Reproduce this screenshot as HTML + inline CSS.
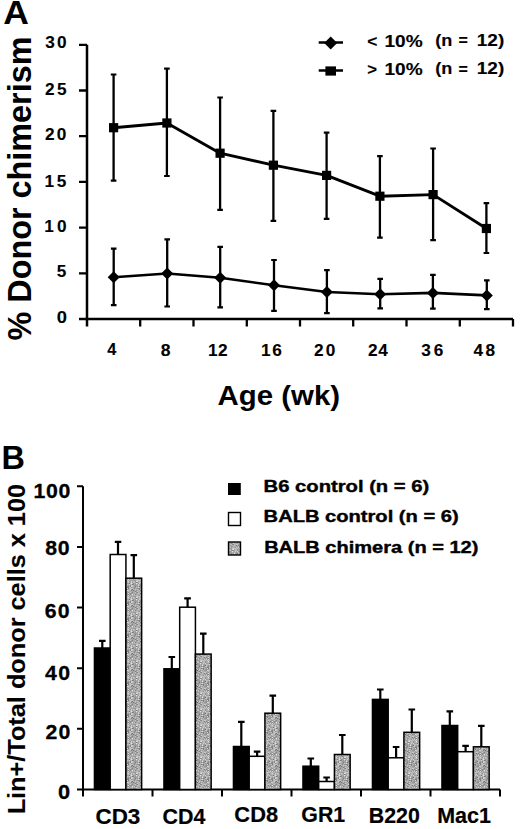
<!DOCTYPE html>
<html><head><meta charset="utf-8"><style>
html,body{margin:0;padding:0;background:#fff;}
svg{display:block;}
</style></head><body>
<svg width="520" height="829" viewBox="0 0 520 829">
<defs><pattern id="gp" patternUnits="userSpaceOnUse" width="16" height="16"><rect width="16" height="16" fill="#a8a8a8"/><path d="M1 7h1v1h-1zM13 9h1v1h-1zM5 14h1v1h-1z" fill="rgb(108,108,108)"/><path d="M12 1h1v1h-1zM8 6h1v1h-1zM4 8h1v1h-1zM7 10h1v1h-1zM11 10h1v1h-1zM0 12h1v1h-1zM4 13h1v1h-1zM11 13h1v1h-1z" fill="rgb(120,120,120)"/><path d="M4 0h1v1h-1zM9 0h1v1h-1zM14 1h1v1h-1zM0 2h1v1h-1zM7 2h1v1h-1zM2 9h1v1h-1zM0 10h1v1h-1zM2 10h1v1h-1zM9 10h1v1h-1zM0 11h1v1h-1zM15 11h1v1h-1zM10 12h1v1h-1zM11 12h1v1h-1zM3 14h1v1h-1zM7 15h1v1h-1z" fill="rgb(132,132,132)"/><path d="M0 0h1v1h-1zM8 0h1v1h-1zM2 1h1v1h-1zM3 1h1v1h-1zM2 2h1v1h-1zM13 2h1v1h-1zM15 2h1v1h-1zM11 3h1v1h-1zM6 4h1v1h-1zM7 5h1v1h-1zM13 5h1v1h-1zM4 6h1v1h-1zM9 6h1v1h-1zM13 6h1v1h-1zM5 7h1v1h-1zM5 8h1v1h-1zM7 9h1v1h-1zM12 9h1v1h-1zM12 10h1v1h-1zM15 10h1v1h-1zM3 11h1v1h-1zM6 11h1v1h-1zM13 11h1v1h-1zM6 12h1v1h-1zM9 12h1v1h-1zM3 13h1v1h-1zM14 13h1v1h-1zM8 14h1v1h-1zM12 14h1v1h-1zM13 14h1v1h-1zM14 14h1v1h-1z" fill="rgb(144,144,144)"/><path d="M3 0h1v1h-1zM15 0h1v1h-1zM1 1h1v1h-1zM6 1h1v1h-1zM8 2h1v1h-1zM1 3h1v1h-1zM5 3h1v1h-1zM15 3h1v1h-1zM5 4h1v1h-1zM7 4h1v1h-1zM1 5h1v1h-1zM2 5h1v1h-1zM7 6h1v1h-1zM6 7h1v1h-1zM14 7h1v1h-1zM15 7h1v1h-1zM6 8h1v1h-1zM7 8h1v1h-1zM9 8h1v1h-1zM12 8h1v1h-1zM0 9h1v1h-1zM6 9h1v1h-1zM4 11h1v1h-1zM5 11h1v1h-1zM7 11h1v1h-1zM8 12h1v1h-1zM14 12h1v1h-1zM6 13h1v1h-1zM13 13h1v1h-1zM15 13h1v1h-1zM4 14h1v1h-1zM6 15h1v1h-1zM8 15h1v1h-1zM15 15h1v1h-1z" fill="rgb(156,156,156)"/><path d="M5 0h1v1h-1zM14 0h1v1h-1zM4 1h1v1h-1zM5 1h1v1h-1zM7 1h1v1h-1zM8 1h1v1h-1zM11 1h1v1h-1zM15 1h1v1h-1zM1 2h1v1h-1zM3 2h1v1h-1zM5 2h1v1h-1zM10 2h1v1h-1zM12 2h1v1h-1zM3 3h1v1h-1zM7 3h1v1h-1zM10 3h1v1h-1zM2 4h1v1h-1zM3 4h1v1h-1zM4 4h1v1h-1zM14 4h1v1h-1zM4 5h1v1h-1zM10 5h1v1h-1zM12 5h1v1h-1zM14 5h1v1h-1zM2 6h1v1h-1zM10 6h1v1h-1zM14 6h1v1h-1zM0 7h1v1h-1zM7 7h1v1h-1zM10 7h1v1h-1zM12 7h1v1h-1zM11 8h1v1h-1zM13 8h1v1h-1zM1 9h1v1h-1zM5 9h1v1h-1zM8 9h1v1h-1zM9 9h1v1h-1zM11 9h1v1h-1zM15 9h1v1h-1zM1 10h1v1h-1zM6 10h1v1h-1zM8 10h1v1h-1zM11 11h1v1h-1zM12 11h1v1h-1zM14 11h1v1h-1zM5 12h1v1h-1zM7 12h1v1h-1zM12 12h1v1h-1zM13 12h1v1h-1zM0 13h1v1h-1zM6 14h1v1h-1zM9 14h1v1h-1zM10 14h1v1h-1zM1 15h1v1h-1zM2 15h1v1h-1zM3 15h1v1h-1zM4 15h1v1h-1zM5 15h1v1h-1zM11 15h1v1h-1zM12 15h1v1h-1zM13 15h1v1h-1z" fill="rgb(168,168,168)"/><path d="M1 0h1v1h-1zM6 0h1v1h-1zM10 0h1v1h-1zM11 0h1v1h-1zM9 1h1v1h-1zM13 1h1v1h-1zM9 2h1v1h-1zM11 2h1v1h-1zM14 2h1v1h-1zM2 3h1v1h-1zM9 3h1v1h-1zM13 3h1v1h-1zM0 4h1v1h-1zM1 4h1v1h-1zM8 4h1v1h-1zM13 4h1v1h-1zM15 5h1v1h-1zM1 6h1v1h-1zM11 6h1v1h-1zM15 6h1v1h-1zM9 7h1v1h-1zM0 8h1v1h-1zM2 8h1v1h-1zM3 8h1v1h-1zM8 8h1v1h-1zM14 8h1v1h-1zM5 10h1v1h-1zM10 10h1v1h-1zM9 11h1v1h-1zM1 12h1v1h-1zM1 13h1v1h-1zM8 13h1v1h-1zM12 13h1v1h-1zM7 14h1v1h-1zM10 15h1v1h-1zM14 15h1v1h-1z" fill="rgb(180,180,180)"/><path d="M2 0h1v1h-1zM7 0h1v1h-1zM13 0h1v1h-1zM10 1h1v1h-1zM6 2h1v1h-1zM4 3h1v1h-1zM6 3h1v1h-1zM8 3h1v1h-1zM12 3h1v1h-1zM10 4h1v1h-1zM11 4h1v1h-1zM12 4h1v1h-1zM15 4h1v1h-1zM5 5h1v1h-1zM6 5h1v1h-1zM11 5h1v1h-1zM0 6h1v1h-1zM5 6h1v1h-1zM6 6h1v1h-1zM2 7h1v1h-1zM4 7h1v1h-1zM10 8h1v1h-1zM15 8h1v1h-1zM4 10h1v1h-1zM13 10h1v1h-1zM1 11h1v1h-1zM2 11h1v1h-1zM8 11h1v1h-1zM3 12h1v1h-1zM2 13h1v1h-1zM5 13h1v1h-1zM9 13h1v1h-1zM10 13h1v1h-1zM0 14h1v1h-1zM1 14h1v1h-1zM2 14h1v1h-1zM11 14h1v1h-1zM0 15h1v1h-1z" fill="rgb(192,192,192)"/><path d="M12 0h1v1h-1zM14 3h1v1h-1zM9 4h1v1h-1zM3 6h1v1h-1zM12 6h1v1h-1zM11 7h1v1h-1zM1 8h1v1h-1zM3 9h1v1h-1zM4 9h1v1h-1zM14 9h1v1h-1zM14 10h1v1h-1zM2 12h1v1h-1zM4 12h1v1h-1zM15 12h1v1h-1zM7 13h1v1h-1zM9 15h1v1h-1z" fill="rgb(204,204,204)"/><path d="M0 3h1v1h-1zM0 5h1v1h-1zM3 5h1v1h-1zM9 5h1v1h-1zM13 7h1v1h-1zM10 9h1v1h-1zM10 11h1v1h-1zM15 14h1v1h-1z" fill="rgb(216,216,216)"/><path d="M0 1h1v1h-1zM4 2h1v1h-1zM8 5h1v1h-1zM3 7h1v1h-1zM8 7h1v1h-1zM3 10h1v1h-1z" fill="rgb(228,228,228)"/></pattern></defs>
<rect width="520" height="829" fill="#fff"/>
<path d="M87.0,44.8 V326.6 M87.0,319.0 H513.0" stroke="#000" stroke-width="2.5" fill="none"/>
<path d="M79,319.0 H87.0 M79,273.3 H87.0 M79,227.6 H87.0 M79,181.9 H87.0 M79,136.2 H87.0 M79,90.5 H87.0 M79,44.8 H87.0" stroke="#000" stroke-width="2.3" fill="none"/>
<path d="M140.2,319.0 V326.6 M193.5,319.0 V326.6 M246.8,319.0 V326.6 M300.0,319.0 V326.6 M353.2,319.0 V326.6 M406.5,319.0 V326.6 M459.8,319.0 V326.6 M513.0,319.0 V326.6" stroke="#000" stroke-width="2.3" fill="none"/>
<path d="M113.6,74.5 V180.6 M166.9,68.6 V176 M220.1,97.5 V209.8 M273.4,110.8 V220.9 M326.6,132.6 V218.8 M379.9,156.2 V237.7 M433.1,148.5 V240.2 M486.4,203.2 V253" stroke="#000" stroke-width="2.3" fill="none"/>
<path d="M110.8,74.5 H116.4 M110.8,180.6 H116.4 M164.1,68.6 H169.7 M164.1,176 H169.7 M217.3,97.5 H222.9 M217.3,209.8 H222.9 M270.6,110.8 H276.2 M270.6,220.9 H276.2 M323.8,132.6 H329.4 M323.8,218.8 H329.4 M377.1,156.2 H382.7 M377.1,237.7 H382.7 M430.3,148.5 H435.9 M430.3,240.2 H435.9 M483.6,203.2 H489.2 M483.6,253 H489.2" stroke="#000" stroke-width="2.2" fill="none"/>
<polyline points="113.6,127.7 166.9,123 220.1,153.2 273.4,165.2 326.6,175.4 379.9,196.2 433.1,194.6 486.4,228.5" stroke="#000" stroke-width="2.9" fill="none" stroke-linejoin="round"/>
<path d="M113.7,248.6 V305.2 M167.2,239.4 V306.5 M220.2,246.8 V307.4 M274,260 V310.8 M326.9,270.2 V313.2 M380.2,278.8 V308.3 M432.9,274.8 V308.6 M486.8,280.3 V309.2" stroke="#000" stroke-width="2.3" fill="none"/>
<path d="M110.9,248.6 H116.5 M110.9,305.2 H116.5 M164.4,239.4 H170.0 M164.4,306.5 H170.0 M217.4,246.8 H223.0 M217.4,307.4 H223.0 M271.2,260 H276.8 M271.2,310.8 H276.8 M324.1,270.2 H329.7 M324.1,313.2 H329.7 M377.4,278.8 H383.0 M377.4,308.3 H383.0 M430.1,274.8 H435.7 M430.1,308.6 H435.7 M484.0,280.3 H489.6 M484.0,309.2 H489.6" stroke="#000" stroke-width="2.2" fill="none"/>
<polyline points="113.7,277.2 167.2,273.5 220.2,277.8 274,285.2 326.9,292 380.2,294.2 432.9,292.9 486.8,295.4" stroke="#000" stroke-width="2.6" fill="none" stroke-linejoin="round"/>
<rect x="109.0" y="123.1" width="9.2" height="9.2" fill="#000"/>
<rect x="162.3" y="118.4" width="9.2" height="9.2" fill="#000"/>
<rect x="215.5" y="148.6" width="9.2" height="9.2" fill="#000"/>
<rect x="268.8" y="160.6" width="9.2" height="9.2" fill="#000"/>
<rect x="322.0" y="170.8" width="9.2" height="9.2" fill="#000"/>
<rect x="375.3" y="191.6" width="9.2" height="9.2" fill="#000"/>
<rect x="428.5" y="190.0" width="9.2" height="9.2" fill="#000"/>
<rect x="481.8" y="223.9" width="9.2" height="9.2" fill="#000"/>
<path d="M113.7,271.2 L119.7,277.2 L113.7,283.2 L107.7,277.2 Z" fill="#000"/>
<path d="M167.2,267.5 L173.2,273.5 L167.2,279.5 L161.2,273.5 Z" fill="#000"/>
<path d="M220.2,271.8 L226.2,277.8 L220.2,283.8 L214.2,277.8 Z" fill="#000"/>
<path d="M274,279.2 L280,285.2 L274,291.2 L268,285.2 Z" fill="#000"/>
<path d="M326.9,286 L332.9,292 L326.9,298 L320.9,292 Z" fill="#000"/>
<path d="M380.2,288.2 L386.2,294.2 L380.2,300.2 L374.2,294.2 Z" fill="#000"/>
<path d="M432.9,286.9 L438.9,292.9 L432.9,298.9 L426.9,292.9 Z" fill="#000"/>
<path d="M486.8,289.4 L492.8,295.4 L486.8,301.4 L480.8,295.4 Z" fill="#000"/>
<path d="M318.7,42.5 H343 M318.7,70.4 H343" stroke="#000" stroke-width="2.5"/>
<path d="M330.7,36.4 L337.2,42.9 L330.7,49.4 L324.2,42.9 Z" fill="#000"/>
<rect x="325.4" y="66.4" width="10.6" height="9.2" fill="#000"/>
<path d="M83.0,486.2 V796.5 M83.0,789.5 H500.0" stroke="#000" stroke-width="2" fill="none"/>
<path d="M77,789.5 H83.0 M77,728.8 H83.0 M77,668.2 H83.0 M77,607.5 H83.0 M77,546.9 H83.0 M77,486.2 H83.0" stroke="#000" stroke-width="2" fill="none"/>
<path d="M152.5,789.5 V796.5 M222.0,789.5 V796.5 M291.5,789.5 V796.5 M361.0,789.5 V796.5 M430.5,789.5 V796.5 M500.0,789.5 V796.5" stroke="#000" stroke-width="2" fill="none"/>
<rect x="94.45" y="648.0" width="15.73" height="141.5" fill="#000" stroke="#000" stroke-width="1.5"/>
<path d="M102.3,648 V640.8 M99.0,640.8 H105.6" stroke="#000" stroke-width="2.2" fill="none"/>
<rect x="110.19" y="554.5" width="15.73" height="235.0" fill="#fff" stroke="#000" stroke-width="1.5"/>
<path d="M118.0,554.5 V541.8 M114.8,541.8 H121.3" stroke="#000" stroke-width="2.2" fill="none"/>
<rect x="125.91" y="578.2" width="15.73" height="211.3" fill="url(#gp)" stroke="#000" stroke-width="1.5"/>
<path d="M133.8,578.2 V555.2 M130.5,555.2 H137.1" stroke="#000" stroke-width="2.2" fill="none"/>
<rect x="163.96" y="668.8" width="15.73" height="120.7" fill="#000" stroke="#000" stroke-width="1.5"/>
<path d="M171.8,668.8 V657 M168.5,657 H175.1" stroke="#000" stroke-width="2.2" fill="none"/>
<rect x="179.69" y="607.2" width="15.73" height="182.3" fill="#fff" stroke="#000" stroke-width="1.5"/>
<path d="M187.6,607.2 V598.4 M184.2,598.4 H190.9" stroke="#000" stroke-width="2.2" fill="none"/>
<rect x="195.42" y="654.1" width="15.73" height="135.4" fill="url(#gp)" stroke="#000" stroke-width="1.5"/>
<path d="M203.3,654.1 V633.6 M200.0,633.6 H206.6" stroke="#000" stroke-width="2.2" fill="none"/>
<rect x="233.46" y="746.5" width="15.73" height="43.0" fill="#000" stroke="#000" stroke-width="1.5"/>
<path d="M241.3,746.5 V721.8 M238.0,721.8 H244.6" stroke="#000" stroke-width="2.2" fill="none"/>
<rect x="249.19" y="756.3" width="15.73" height="33.2" fill="#fff" stroke="#000" stroke-width="1.5"/>
<path d="M257.1,756.3 V751.7 M253.8,751.7 H260.4" stroke="#000" stroke-width="2.2" fill="none"/>
<rect x="264.92" y="713.2" width="15.73" height="76.3" fill="url(#gp)" stroke="#000" stroke-width="1.5"/>
<path d="M272.8,713.2 V695.7 M269.5,695.7 H276.1" stroke="#000" stroke-width="2.2" fill="none"/>
<rect x="302.96" y="766.2" width="15.73" height="23.3" fill="#000" stroke="#000" stroke-width="1.5"/>
<path d="M310.8,766.2 V758.5 M307.5,758.5 H314.1" stroke="#000" stroke-width="2.2" fill="none"/>
<rect x="318.69" y="781.5" width="15.73" height="8.0" fill="#fff" stroke="#000" stroke-width="1.5"/>
<path d="M326.6,781.5 V777.5 M323.3,777.5 H329.9" stroke="#000" stroke-width="2.2" fill="none"/>
<rect x="334.42" y="754.5" width="15.73" height="35.0" fill="url(#gp)" stroke="#000" stroke-width="1.5"/>
<path d="M342.3,754.5 V735 M339.0,735 H345.6" stroke="#000" stroke-width="2.2" fill="none"/>
<rect x="372.46" y="699.4" width="15.73" height="90.1" fill="#000" stroke="#000" stroke-width="1.5"/>
<path d="M380.3,699.4 V689.5 M377.0,689.5 H383.6" stroke="#000" stroke-width="2.2" fill="none"/>
<rect x="388.19" y="757.8" width="15.73" height="31.7" fill="#fff" stroke="#000" stroke-width="1.5"/>
<path d="M396.1,757.8 V747 M392.8,747 H399.4" stroke="#000" stroke-width="2.2" fill="none"/>
<rect x="403.92" y="732.3" width="15.73" height="57.2" fill="url(#gp)" stroke="#000" stroke-width="1.5"/>
<path d="M411.8,732.3 V709.5 M408.5,709.5 H415.1" stroke="#000" stroke-width="2.2" fill="none"/>
<rect x="441.96" y="725.5" width="15.73" height="64.0" fill="#000" stroke="#000" stroke-width="1.5"/>
<path d="M449.8,725.5 V711.4 M446.5,711.4 H453.1" stroke="#000" stroke-width="2.2" fill="none"/>
<rect x="457.69" y="751.7" width="15.73" height="37.8" fill="#fff" stroke="#000" stroke-width="1.5"/>
<path d="M465.6,751.7 V745.8 M462.3,745.8 H468.9" stroke="#000" stroke-width="2.2" fill="none"/>
<rect x="473.42" y="746.8" width="15.73" height="42.7" fill="url(#gp)" stroke="#000" stroke-width="1.5"/>
<path d="M481.3,746.8 V725.8 M478.0,725.8 H484.6" stroke="#000" stroke-width="2.2" fill="none"/>
<rect x="228" y="483" width="12.8" height="12" fill="#000"/>
<rect x="228.5" y="512.5" width="12" height="13" fill="#fff" stroke="#000" stroke-width="1.4"/>
<rect x="228.5" y="542" width="12" height="13" fill="url(#gp)" stroke="#000" stroke-width="1.4"/>
<text transform="translate(3.37,24.29) scale(1.0846,1)" font-family="Liberation Sans, sans-serif" font-weight="bold" font-size="32.71" style="white-space:pre">A</text>
<text transform="translate(367.36,46.63) scale(1.0219,1)" font-family="Liberation Sans, sans-serif" font-weight="bold" font-size="17.01" stroke="#000" stroke-width="0.15" stroke-linejoin="round" style="white-space:pre">&lt;</text>
<text transform="translate(384.52,46.77) scale(1.1203,1)" font-family="Liberation Sans, sans-serif" font-weight="bold" font-size="17.01" stroke="#000" stroke-width="0.15" stroke-linejoin="round" style="white-space:pre">10%</text>
<text transform="translate(435.29,46.03) scale(1.0629,1)" font-family="Liberation Sans, sans-serif" font-weight="bold" font-size="17.01" stroke="#000" stroke-width="0.15" stroke-linejoin="round" style="white-space:pre">(n</text>
<text transform="translate(458.59,46.24) scale(0.9409,1)" font-family="Liberation Sans, sans-serif" font-weight="bold" font-size="17.01" stroke="#000" stroke-width="0.15" stroke-linejoin="round" style="white-space:pre">=</text>
<text transform="translate(476.82,46.03) scale(1.1153,1)" font-family="Liberation Sans, sans-serif" font-weight="bold" font-size="17.01" stroke="#000" stroke-width="0.15" stroke-linejoin="round" style="white-space:pre">12)</text>
<text transform="translate(367.35,74.58) scale(0.9804,1)" font-family="Liberation Sans, sans-serif" font-weight="bold" font-size="17.01" stroke="#000" stroke-width="0.15" stroke-linejoin="round" style="white-space:pre">&gt;</text>
<text transform="translate(384.52,74.96) scale(1.1203,1)" font-family="Liberation Sans, sans-serif" font-weight="bold" font-size="17.01" stroke="#000" stroke-width="0.15" stroke-linejoin="round" style="white-space:pre">10%</text>
<text transform="translate(435.29,74.23) scale(1.0629,1)" font-family="Liberation Sans, sans-serif" font-weight="bold" font-size="17.01" stroke="#000" stroke-width="0.15" stroke-linejoin="round" style="white-space:pre">(n</text>
<text transform="translate(458.59,75.24) scale(0.9409,1)" font-family="Liberation Sans, sans-serif" font-weight="bold" font-size="17.01" stroke="#000" stroke-width="0.15" stroke-linejoin="round" style="white-space:pre">=</text>
<text transform="translate(476.82,74.23) scale(1.1153,1)" font-family="Liberation Sans, sans-serif" font-weight="bold" font-size="17.01" stroke="#000" stroke-width="0.15" stroke-linejoin="round" style="white-space:pre">12)</text>
<text transform="translate(31.00,340.45) rotate(-90) scale(0.9866,1)" font-family="Liberation Sans, sans-serif" font-weight="bold" font-size="32.80" style="white-space:pre">% Donor chimerism</text>
<text transform="translate(217.54,404.70) scale(1.0427,1)" font-family="Liberation Sans, sans-serif" font-weight="bold" font-size="28.20" style="white-space:pre">Age (wk)</text>
<text transform="translate(45.17,48.35) scale(1.0300,1)" font-family="Liberation Sans, sans-serif" font-weight="bold" font-size="16.72" stroke="#000" stroke-width="0.1" stroke-linejoin="round" textLength="20.81" lengthAdjust="spacing" style="white-space:pre">30</text>
<text transform="translate(45.00,94.91) scale(1.0300,1)" font-family="Liberation Sans, sans-serif" font-weight="bold" font-size="16.72" stroke="#000" stroke-width="0.1" stroke-linejoin="round" textLength="21.05" lengthAdjust="spacing" style="white-space:pre">25</text>
<text transform="translate(44.93,139.52) scale(1.0300,1)" font-family="Liberation Sans, sans-serif" font-weight="bold" font-size="16.72" stroke="#000" stroke-width="0.1" stroke-linejoin="round" textLength="20.87" lengthAdjust="spacing" style="white-space:pre">20</text>
<text transform="translate(44.39,186.53) scale(1.0300,1)" font-family="Liberation Sans, sans-serif" font-weight="bold" font-size="16.72" stroke="#000" stroke-width="0.1" stroke-linejoin="round" textLength="21.25" lengthAdjust="spacing" style="white-space:pre">15</text>
<text transform="translate(44.37,232.47) scale(1.0300,1)" font-family="Liberation Sans, sans-serif" font-weight="bold" font-size="16.72" stroke="#000" stroke-width="0.1" stroke-linejoin="round" textLength="21.52" lengthAdjust="spacing" style="white-space:pre">10</text>
<text transform="translate(56.86,277.48) scale(1.0251,1)" font-family="Liberation Sans, sans-serif" font-weight="bold" font-size="16.72" stroke="#000" stroke-width="0.1" stroke-linejoin="round" style="white-space:pre">5</text>
<text transform="translate(56.83,323.14) scale(1.0974,1)" font-family="Liberation Sans, sans-serif" font-weight="bold" font-size="16.72" stroke="#000" stroke-width="0.1" stroke-linejoin="round" style="white-space:pre">0</text>
<text transform="translate(107.30,355.37) scale(0.9784,1)" font-family="Liberation Sans, sans-serif" font-weight="bold" font-size="16.72" stroke="#000" stroke-width="0.1" stroke-linejoin="round" style="white-space:pre">4</text>
<text transform="translate(160.71,355.55) scale(1.0503,1)" font-family="Liberation Sans, sans-serif" font-weight="bold" font-size="16.72" stroke="#000" stroke-width="0.1" stroke-linejoin="round" style="white-space:pre">8</text>
<text transform="translate(207.97,355.58) scale(1.0300,1)" font-family="Liberation Sans, sans-serif" font-weight="bold" font-size="16.72" stroke="#000" stroke-width="0.1" stroke-linejoin="round" textLength="19.01" lengthAdjust="spacing" style="white-space:pre">12</text>
<text transform="translate(261.11,355.57) scale(1.0300,1)" font-family="Liberation Sans, sans-serif" font-weight="bold" font-size="16.72" stroke="#000" stroke-width="0.1" stroke-linejoin="round" textLength="20.22" lengthAdjust="spacing" style="white-space:pre">16</text>
<text transform="translate(313.93,355.69) scale(1.0300,1)" font-family="Liberation Sans, sans-serif" font-weight="bold" font-size="16.72" stroke="#000" stroke-width="0.1" stroke-linejoin="round" textLength="20.72" lengthAdjust="spacing" style="white-space:pre">20</text>
<text transform="translate(367.93,355.57) scale(1.0300,1)" font-family="Liberation Sans, sans-serif" font-weight="bold" font-size="16.72" stroke="#000" stroke-width="0.1" stroke-linejoin="round" textLength="19.28" lengthAdjust="spacing" style="white-space:pre">24</text>
<text transform="translate(421.36,355.73) scale(1.0300,1)" font-family="Liberation Sans, sans-serif" font-weight="bold" font-size="16.72" stroke="#000" stroke-width="0.1" stroke-linejoin="round" textLength="21.27" lengthAdjust="spacing" style="white-space:pre">36</text>
<text transform="translate(473.45,355.61) scale(1.0300,1)" font-family="Liberation Sans, sans-serif" font-weight="bold" font-size="16.72" stroke="#000" stroke-width="0.1" stroke-linejoin="round" textLength="20.97" lengthAdjust="spacing" style="white-space:pre">48</text>
<text transform="translate(1.62,469.36) scale(0.9652,1)" font-family="Liberation Sans, sans-serif" font-weight="bold" font-size="33.59" style="white-space:pre">B</text>
<text transform="translate(33.56,497.68) scale(1.0200,1)" font-family="Liberation Sans, sans-serif" font-weight="bold" font-size="20.84" stroke="#000" stroke-width="0.3" stroke-linejoin="round" textLength="35.97" lengthAdjust="spacing" style="white-space:pre">100</text>
<text transform="translate(45.25,554.94) scale(1.0200,1)" font-family="Liberation Sans, sans-serif" font-weight="bold" font-size="20.84" stroke="#000" stroke-width="0.3" stroke-linejoin="round" textLength="23.95" lengthAdjust="spacing" style="white-space:pre">80</text>
<text transform="translate(44.72,617.89) scale(1.0200,1)" font-family="Liberation Sans, sans-serif" font-weight="bold" font-size="20.84" stroke="#000" stroke-width="0.3" stroke-linejoin="round" textLength="24.35" lengthAdjust="spacing" style="white-space:pre">60</text>
<text transform="translate(45.11,680.47) scale(1.0200,1)" font-family="Liberation Sans, sans-serif" font-weight="bold" font-size="20.84" stroke="#000" stroke-width="0.3" stroke-linejoin="round" textLength="24.54" lengthAdjust="spacing" style="white-space:pre">40</text>
<text transform="translate(45.40,739.19) scale(1.0200,1)" font-family="Liberation Sans, sans-serif" font-weight="bold" font-size="20.84" stroke="#000" stroke-width="0.3" stroke-linejoin="round" textLength="24.34" lengthAdjust="spacing" style="white-space:pre">20</text>
<text transform="translate(57.98,798.53) scale(1.0431,1)" font-family="Liberation Sans, sans-serif" font-weight="bold" font-size="20.84" stroke="#000" stroke-width="0.3" stroke-linejoin="round" style="white-space:pre">0</text>
<text transform="translate(263.61,492.44) scale(1.1744,1)" font-family="Liberation Sans, sans-serif" font-weight="bold" font-size="17.22" stroke="#000" stroke-width="0.4" stroke-linejoin="round" style="white-space:pre">B6 control (n = 6)</text>
<text transform="translate(263.60,522.27) scale(1.1693,1)" font-family="Liberation Sans, sans-serif" font-weight="bold" font-size="17.22" stroke="#000" stroke-width="0.4" stroke-linejoin="round" style="white-space:pre">BALB control (n = 6)</text>
<text transform="translate(264.14,552.94) scale(1.1642,1)" font-family="Liberation Sans, sans-serif" font-weight="bold" font-size="17.22" stroke="#000" stroke-width="0.4" stroke-linejoin="round" style="white-space:pre">BALB chimera (n = 12)</text>
<text transform="translate(25.43,814.35) rotate(-90) scale(1.0643,1)" font-family="Liberation Sans, sans-serif" font-weight="bold" font-size="23.77" stroke="#000" stroke-width="0.1" stroke-linejoin="round" style="white-space:pre">Lin+/Total donor cells x 100</text>
<text transform="translate(95.45,823.64) scale(1.0167,1)" font-family="Liberation Sans, sans-serif" font-weight="bold" font-size="22.04" stroke="#000" stroke-width="0.2" stroke-linejoin="round" style="white-space:pre">CD3</text>
<text transform="translate(162.54,823.66) scale(0.9709,1)" font-family="Liberation Sans, sans-serif" font-weight="bold" font-size="22.04" stroke="#000" stroke-width="0.2" stroke-linejoin="round" style="white-space:pre">CD4</text>
<text transform="translate(234.37,822.47) scale(0.9906,1)" font-family="Liberation Sans, sans-serif" font-weight="bold" font-size="22.04" stroke="#000" stroke-width="0.2" stroke-linejoin="round" style="white-space:pre">CD8</text>
<text transform="translate(301.28,822.47) scale(0.9688,1)" font-family="Liberation Sans, sans-serif" font-weight="bold" font-size="22.04" stroke="#000" stroke-width="0.2" stroke-linejoin="round" style="white-space:pre">GR1</text>
<text transform="translate(368.76,823.28) scale(0.9691,1)" font-family="Liberation Sans, sans-serif" font-weight="bold" font-size="22.04" stroke="#000" stroke-width="0.2" stroke-linejoin="round" style="white-space:pre">B220</text>
<text transform="translate(437.22,823.28) scale(0.9744,1)" font-family="Liberation Sans, sans-serif" font-weight="bold" font-size="22.04" stroke="#000" stroke-width="0.2" stroke-linejoin="round" style="white-space:pre">Mac1</text>
</svg>
</body></html>
